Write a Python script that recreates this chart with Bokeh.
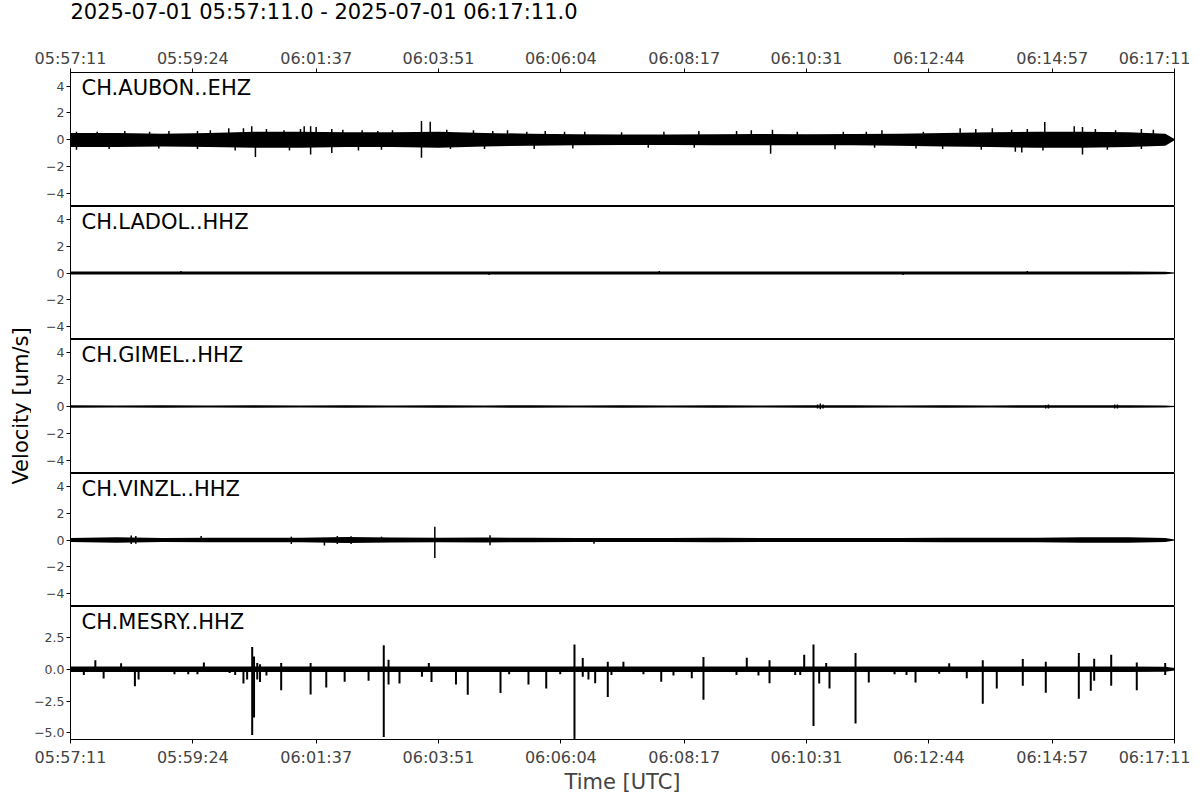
import math
from bokeh.plotting import figure
from bokeh.layouts import column, row
from bokeh.models import Range1d, FixedTicker, Label, ColumnDataSource
from bokeh.embed import file_html
from bokeh.resources import INLINE

# ---------------- data ----------------
title_text = "2025-07-01 05:57:11.0 - 2025-07-01 06:17:11.0"
channels = ["CH.AUBON..EHZ", "CH.LADOL..HHZ", "CH.GIMEL..HHZ", "CH.VINZL..HHZ", "CH.MESRY..HHZ"]
y_title = "Velocity [um/s]"
x_title = "Time [UTC]"

# x in seconds after 05:57:11
tick_seconds = [0, 133, 267, 400, 533, 667, 800, 933, 1067, 1200]
tick_labels = ["05:57:11", "05:59:24", "06:01:37", "06:03:51", "06:06:04",
               "06:08:17", "06:10:31", "06:12:44", "06:14:57", "06:17:11"]

# envelope sample times (s)
env_t = [0, 50, 100, 150, 200, 250, 300, 350, 400, 450, 500, 550, 600,
         650, 700, 750, 800, 850, 900, 950, 1000, 1050, 1100, 1150, 1190, 1200]

aubon_up = [0.5, 0.5, 0.45, 0.5, 0.6, 0.6, 0.55, 0.55, 0.6, 0.5, 0.45, 0.4, 0.38,
            0.38, 0.4, 0.42, 0.4, 0.42, 0.45, 0.5, 0.55, 0.6, 0.6, 0.55, 0.45, 0.05]
aubon_lo = [-0.55, -0.55, -0.5, -0.55, -0.6, -0.6, -0.55, -0.55, -0.6, -0.5, -0.45, -0.42, -0.4,
            -0.4, -0.42, -0.42, -0.42, -0.42, -0.45, -0.5, -0.55, -0.6, -0.6, -0.55, -0.45, -0.05]
# upward excursions (time s, peak)
aubon_top_t = [6.5, 29, 59, 86, 107, 138, 152, 172, 188, 197, 213, 232, 250, 254, 261, 267,
               284, 296, 317, 334, 350, 381.5, 391, 409, 438, 459, 475, 496, 516, 537, 559,
               599, 645, 683, 724, 740, 763, 790, 840, 865, 882, 927, 967, 984, 1002, 1023,
               1040, 1059, 1091, 1100, 1114, 1136, 1164, 1177]
aubon_top_v = [0.6, 0.6, 0.65, 0.6, 0.65, 0.65, 0.7, 0.85, 0.85, 1.0, 0.8, 0.7, 0.8, 1.0, 1.0, 0.95,
               0.8, 0.75, 0.7, 0.65, 0.7, 1.4, 1.35, 0.75, 0.7, 0.65, 0.7, 0.6, 0.65, 0.6, 0.6,
               0.55, 0.6, 0.65, 0.65, 0.7, 0.75, 0.6, 0.6, 0.6, 0.7, 0.6, 0.85, 0.8, 0.85, 0.75,
               0.8, 1.32, 1.0, 0.95, 0.8, 0.7, 0.8, 0.75]
# downward excursions (time s, trough)
aubon_bot_t = [6.5, 42, 96, 138, 179, 201, 238, 261, 284, 313, 338, 381.5, 413, 450, 504, 546,
               628, 678, 761, 831, 874, 919, 948, 990, 1027, 1034, 1057, 1100, 1127, 1164]
aubon_bot_v = [-0.75, -0.7, -0.65, -0.7, -0.8, -1.3, -0.8, -1.1, -1.0, -0.8, -0.75, -1.35, -0.7, -0.7, -0.7, -0.65,
               -0.6, -0.6, -1.05, -0.72, -0.6, -0.65, -0.7, -0.75, -0.9, -0.95, -0.8, -1.1, -0.75, -0.7]

ladol_up = [0.12, 0.11, 0.12, 0.11, 0.12, 0.11, 0.12, 0.11, 0.12, 0.11, 0.12, 0.11, 0.12,
            0.11, 0.12, 0.11, 0.12, 0.12, 0.11, 0.12, 0.11, 0.12, 0.11, 0.12, 0.1, 0.03]
ladol_lo = [-0.12, -0.11, -0.12, -0.11, -0.12, -0.11, -0.12, -0.11, -0.12, -0.11, -0.12, -0.11, -0.12,
            -0.11, -0.12, -0.11, -0.12, -0.12, -0.11, -0.12, -0.11, -0.12, -0.11, -0.12, -0.1, -0.03]
ladol_top_t = [120, 640, 1040]
ladol_top_v = [0.15, 0.15, 0.15]
ladol_bot_t = [455, 905]
ladol_bot_v = [-0.15, -0.15]

gimel_up = [0.09, 0.08, 0.09, 0.08, 0.09, 0.08, 0.09, 0.08, 0.09, 0.08, 0.09, 0.08, 0.09,
            0.08, 0.09, 0.08, 0.1, 0.09, 0.08, 0.09, 0.08, 0.1, 0.09, 0.1, 0.08, 0.03]
gimel_lo = [-0.09, -0.08, -0.09, -0.08, -0.09, -0.08, -0.09, -0.08, -0.09, -0.08, -0.09, -0.08, -0.09,
            -0.08, -0.09, -0.08, -0.1, -0.09, -0.08, -0.09, -0.08, -0.1, -0.09, -0.1, -0.08, -0.03]
gimel_top_t = [812, 815, 818, 1060, 1063, 1135, 1138]
gimel_top_v = [0.15, 0.22, 0.15, 0.12, 0.15, 0.14, 0.15]
gimel_bot_t = [812, 815, 818, 1060, 1063, 1135, 1138]
gimel_bot_v = [-0.15, -0.2, -0.15, -0.14, -0.15, -0.14, -0.15]

vinzl_up = [0.15, 0.2, 0.15, 0.16, 0.17, 0.16, 0.22, 0.18, 0.17, 0.18, 0.16, 0.15, 0.15,
            0.15, 0.16, 0.15, 0.15, 0.15, 0.15, 0.16, 0.16, 0.17, 0.2, 0.2, 0.15, 0.03]
vinzl_lo = [-0.15, -0.2, -0.15, -0.16, -0.17, -0.16, -0.22, -0.18, -0.17, -0.18, -0.16, -0.15, -0.15,
            -0.15, -0.16, -0.15, -0.15, -0.15, -0.15, -0.16, -0.16, -0.17, -0.2, -0.2, -0.15, -0.03]
vinzl_top_t = [66, 71, 142, 240, 290, 305, 338, 396, 456]
vinzl_top_v = [0.33, 0.3, 0.3, 0.25, 0.3, 0.28, 0.25, 1.0, 0.35]
vinzl_bot_t = [66, 71, 240, 276, 290, 305, 396, 456, 569]
vinzl_bot_v = [-0.3, -0.28, -0.3, -0.42, -0.3, -0.3, -1.35, -0.4, -0.28]

mesry_up = [0.22, 0.22, 0.22, 0.22, 0.22, 0.22, 0.22, 0.22, 0.22, 0.22, 0.22, 0.22, 0.22,
            0.22, 0.22, 0.22, 0.22, 0.22, 0.22, 0.22, 0.22, 0.22, 0.22, 0.22, 0.2, 0.1]
mesry_lo = [-0.22, -0.22, -0.22, -0.22, -0.22, -0.22, -0.22, -0.22, -0.22, -0.22, -0.22, -0.22, -0.22,
            -0.22, -0.22, -0.22, -0.22, -0.22, -0.22, -0.22, -0.22, -0.22, -0.22, -0.22, -0.2, -0.1]
mesry_top_t = [27, 55, 145, 197.5, 199.5, 203, 206, 229, 261, 340.5, 345.7, 389.5, 547.8, 556.8,
               584, 601, 688, 735.1, 759.8, 797.5, 807.6, 821.4, 853.3, 955.1, 991.6, 1035.1,
               1060.1, 1096, 1112.7, 1131.2, 1159, 1189.9]
mesry_top_v = [0.7, 0.48, 0.53, 1.76, 1.0, 0.5, 0.4, 0.5, 0.5, 1.89, 0.74, 0.5, 1.94, 0.88,
               0.6, 0.6, 0.96, 0.9, 0.7, 1.14, 1.94, 0.5, 1.28, 0.48, 0.7, 0.8,
               0.6, 1.28, 0.83, 1.14, 0.53, 0.5]
mesry_bot_t = [14.5, 36, 70, 74, 113, 128, 138, 173, 179, 188, 192, 197.5, 199.5,
               203, 206, 213, 229, 261, 278, 298, 324, 340.5, 345.7, 357.6, 382, 392.4,
               419, 431.8, 467.4, 476.8, 497.8, 517.1, 532.3, 547.8, 556.8, 563, 570.3, 584, 588,
               622.8, 642.1, 655.4, 675.3, 688, 723.9, 747.8, 759.8, 787.7, 793.2,
               807.6, 813.8, 825, 853.3, 867.7, 895.7, 908.7, 918.5, 944.2,
               974.2, 991.6, 1006.8, 1035.1, 1060.1, 1096, 1109, 1112.7, 1131.2,
               1159, 1189.9]
mesry_bot_v = [-0.46, -0.72, -1.34, -0.8, -0.4, -0.4, -0.4, -0.3, -0.45, -1.12, -0.8, -5.18, -3.8,
               -0.8, -1.0, -0.5, -1.65, -1.98, -1.44, -0.99, -0.9, -5.34, -1.2, -1.12, -0.6, -1.0,
               -1.2, -2.0, -1.87, -0.4, -1.2, -1.52, -0.4, -5.6, -0.6, -0.8, -1.1, -2.19, -0.45,
               -0.4, -0.99, -0.5, -0.7, -2.4, -0.45, -0.5, -1.1, -0.45, -0.45,
               -4.46, -1.12, -1.52, -4.27, -1.04, -0.4, -0.45, -1.04, -0.35,
               -0.7, -2.72, -1.52, -1.3, -1.84, -2.32, -1.7, -0.9, -1.3,
               -1.66, -0.46]

traces = [
    (aubon_up, aubon_lo, aubon_top_t, aubon_top_v, aubon_bot_t, aubon_bot_v, 1.5),
    (ladol_up, ladol_lo, ladol_top_t, ladol_top_v, ladol_bot_t, ladol_bot_v, 1.5),
    (gimel_up, gimel_lo, gimel_top_t, gimel_top_v, gimel_bot_t, gimel_bot_v, 1.5),
    (vinzl_up, vinzl_lo, vinzl_top_t, vinzl_top_v, vinzl_bot_t, vinzl_bot_v, 1.5),
    (mesry_up, mesry_lo, mesry_top_t, mesry_top_v, mesry_bot_t, mesry_bot_v, 2.0),
]

y_ranges = [(-5.0, 5.03), (-5.0, 5.0), (-5.0, 5.0), (-5.0, 5.0), (-5.53, 4.94)]
y_ticks_std = [-4, -2, 0, 2, 4]
y_labels_std = ["\u22124", "\u22122", "0", "2", "4"]
y_ticks_last = [-5.0, -2.5, 0.0, 2.5]
y_labels_last = ["\u22125.0", "\u22122.5", "0.0", "2.5"]

# ---------------- layout ----------------
FONT = "DejaVu Sans"
frame_heights = [134, 133, 134, 133, 133]
LABEL_W = 31
BORDER_LEFT = 39
TITLE_H = 22
BORDER_TOP = 50
BORDER_BOTTOM = 55
total_h = TITLE_H + BORDER_TOP + sum(frame_heights) + BORDER_BOTTOM

x_range = Range1d(0, 1200)

# strip that carries the figure title, aligned with the panel frames
tfig = figure(frame_width=1104, frame_height=TITLE_H, x_range=x_range, y_range=Range1d(0, 1),
              output_backend="svg", toolbar_location=None,
              x_axis_location=None, y_axis_location=None,
              min_border_left=BORDER_LEFT, min_border_right=16,
              min_border_top=0, min_border_bottom=0,
              background_fill_color="white", border_fill_color="white")
tfig.outline_line_color = None
tfig.grid.visible = False
tfig.add_layout(Label(x=0, y=TITLE_H / 2, x_units="screen", y_units="screen",
                      text=title_text, text_baseline="middle", text_align="left",
                      text_font=FONT, text_font_size="21px", text_color="black"))

figs = [tfig]
n = len(channels)
for i in range(n):
    top = i == 0
    bottom = i == n - 1
    p = figure(
        frame_width=1104, frame_height=frame_heights[i],
        x_range=x_range, y_range=Range1d(*y_ranges[i]),
        output_backend="svg", toolbar_location=None,
        x_axis_location="above" if top else ("below" if bottom else None),
        min_border_left=BORDER_LEFT, min_border_right=16,
        min_border_top=BORDER_TOP if top else 0,
        min_border_bottom=BORDER_BOTTOM if bottom else 0,
        background_fill_color="white", border_fill_color="white",
    )
    p.outline_line_color = "black"
    p.outline_line_width = 1
    p.outline_line_alpha = 1.0
    p.grid.visible = False

    up, lo, tt, tv, bt, bv, lw = traces[i]
    p.varea(x=env_t, y1=lo, y2=up, fill_color="black")
    src_t = ColumnDataSource(dict(t=tt, v=tv, z=[0.0] * len(tt)))
    p.segment(x0="t", y0="z", x1="t", y1="v", source=src_t, line_color="black", line_width=lw)
    src_b = ColumnDataSource(dict(t=bt, v=bv, z=[0.0] * len(bt)))
    p.segment(x0="t", y0="z", x1="t", y1="v", source=src_b, line_color="black", line_width=lw)

    yax = p.yaxis[0]
    if bottom:
        yax.ticker = FixedTicker(ticks=y_ticks_last)
        yax.major_label_overrides = dict(zip(y_ticks_last, y_labels_last))
    else:
        yax.ticker = FixedTicker(ticks=y_ticks_std)
        yax.major_label_overrides = dict(zip(y_ticks_std, y_labels_std))
    yax.minor_tick_line_color = None
    yax.major_tick_out = 4
    yax.major_tick_in = 0
    yax.major_label_standoff = 2
    yax.major_label_text_font = FONT
    yax.major_label_text_font_size = "12.5px"
    yax.axis_line_color = "black"

    if top or bottom:
        xax = p.xaxis[0]
        xax.ticker = FixedTicker(ticks=tick_seconds)
        xax.major_label_overrides = dict(zip(tick_seconds, tick_labels))
        xax.minor_tick_line_color = None
        xax.major_tick_out = 4
        xax.major_tick_in = 0
        xax.major_label_standoff = 1 if top else 4
        xax.major_label_text_font = FONT
        xax.major_label_text_font_size = "16px"
        if bottom:
            xax.axis_label = x_title
            xax.axis_label_text_font = FONT
            xax.axis_label_text_font_size = "21px"
            xax.axis_label_text_font_style = "normal"
            xax.axis_label_standoff = 0

    p.add_layout(Label(x=11, y=frame_heights[i] - 3, x_units="screen", y_units="screen",
                       text=channels[i], text_baseline="top", text_align="left",
                       text_font=FONT, text_font_size="21px", text_color="black"))
    figs.append(p)

# narrow strip holding the shared y-axis title
lab = figure(frame_width=LABEL_W, frame_height=total_h, min_border=0,
             x_range=Range1d(0, 1), y_range=Range1d(0, 1),
             output_backend="svg", toolbar_location=None,
             x_axis_location=None, y_axis_location=None,
             background_fill_color="white", border_fill_color="white")
lab.outline_line_color = None
lab.grid.visible = False
lab.add_layout(Label(x=20, y=total_h - 405.5, x_units="screen", y_units="screen",
                     text=y_title, angle=math.pi / 2, text_align="center",
                     text_baseline="middle", text_font=FONT, text_font_size="21px",
                     text_color="black"))

layout = row(lab, column(*figs, spacing=0), spacing=0)
open("out.html", "w").write(file_html(layout, INLINE))
